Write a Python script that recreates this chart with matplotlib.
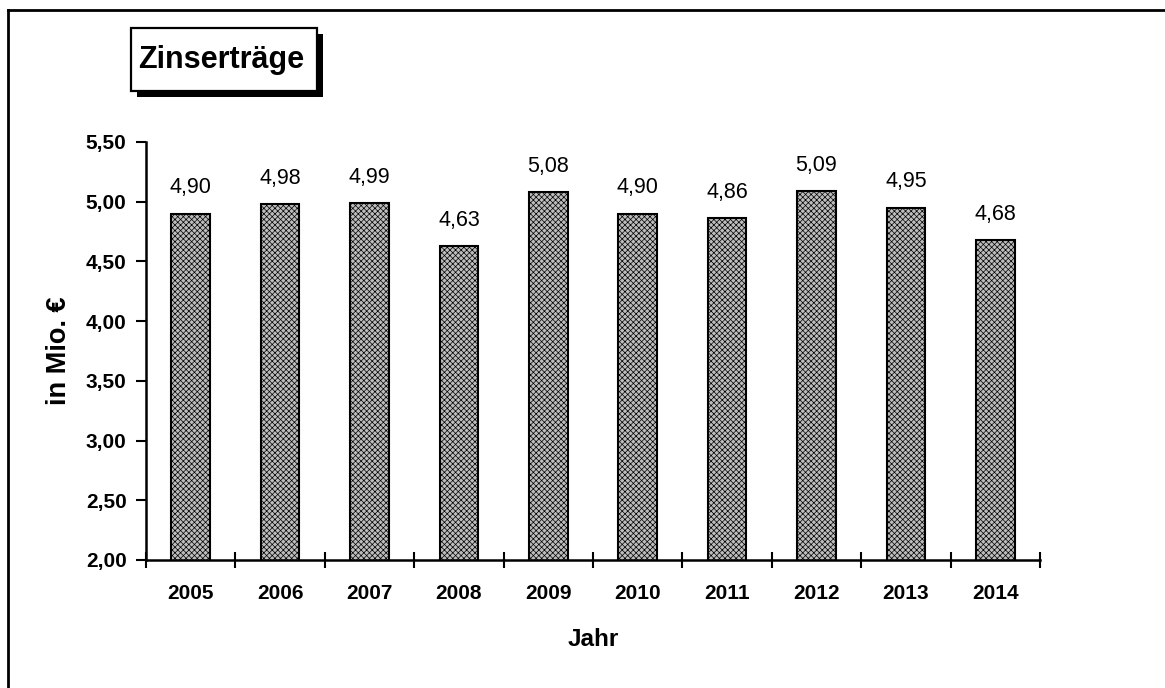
import matplotlib
matplotlib.use("Agg")
import matplotlib.pyplot as plt
from matplotlib.patches import Rectangle
from matplotlib.lines import Line2D

years = ["2005", "2006", "2007", "2008", "2009", "2010", "2011", "2012", "2013", "2014"]
values = [4.90, 4.98, 4.99, 4.63, 5.08, 4.90, 4.86, 5.09, 4.95, 4.68]
y_ticks = [2.00, 2.50, 3.00, 3.50, 4.00, 4.50, 5.00, 5.50]

plt.rcParams['font.family'] = ['Liberation Sans', 'DejaVu Sans']
plt.rcParams['hatch.color'] = '#7a7a7a'
plt.rcParams['hatch.linewidth'] = 0.5

W, H = 1165, 688
fig = plt.figure(figsize=(W / 100, H / 100), dpi=100)

def fx(px):
    return px / W

def fy(py):
    return 1 - py / H

ax = fig.add_axes([fx(146), fy(560), fx(1040) - fx(146), fy(142) - fy(560)])

x = list(range(len(years)))
ax.bar(x, values, width=0.43, bottom=0, facecolor='#bdbdbd', edgecolor='black',
       linewidth=1.5, hatch='xxxxxx', zorder=2)

for xi, v in zip(x, values):
    ax.annotate(f"{v:.2f}".replace('.', ','), (xi, v), xytext=(0, 11),
                textcoords='offset points', ha='center', va='bottom', fontsize=15.5)

ax.set_xlim(-0.5, len(years) - 0.5)
ax.set_ylim(2.0, 5.5)
ax.set_yticks(y_ticks)
ax.set_yticklabels([f"{t:.2f}".replace('.', ',') for t in y_ticks],
                   fontsize=15, fontweight='bold')
ax.set_xticks(x)
ax.set_xticklabels(years, fontsize=15, fontweight='bold')
ax.set_xticks([i - 0.5 for i in range(len(years) + 1)], minor=True)
ax.tick_params(axis='x', which='major', length=0, pad=17)
ax.tick_params(axis='x', which='minor', direction='inout', length=11, width=1.5)
ax.tick_params(axis='y', which='major', direction='out', length=7, width=1.5, pad=7)

for s in ['top', 'right']:
    ax.spines[s].set_visible(False)
for s in ['left', 'bottom']:
    ax.spines[s].set_linewidth(1.8)

ax.set_xlabel("Jahr", fontsize=17.5, fontweight='bold', labelpad=18)
ax.set_ylabel("in Mio. €", fontsize=19.5, fontweight='bold', labelpad=10)

# outer frame (left and top)
fig.add_artist(Line2D([fx(8), fx(8)], [fy(10), 0], color='black', linewidth=2))
fig.add_artist(Line2D([fx(8), 1], [fy(10), fy(10)], color='black', linewidth=2))

# title box with shadow
fig.add_artist(Rectangle((fx(137), fy(97)), fx(323) - fx(137), fy(34) - fy(97),
                         transform=fig.transFigure, facecolor='black', edgecolor='none'))
fig.add_artist(Rectangle((fx(131), fy(91)), fx(317) - fx(131), fy(28) - fy(91),
                         transform=fig.transFigure, facecolor='white', edgecolor='black',
                         linewidth=1.6))
fig.text(fx(221), fy(60), "Zinserträge", ha='center', va='center',
         fontsize=22, fontweight='bold')

fig.savefig("out.png", dpi=100)
